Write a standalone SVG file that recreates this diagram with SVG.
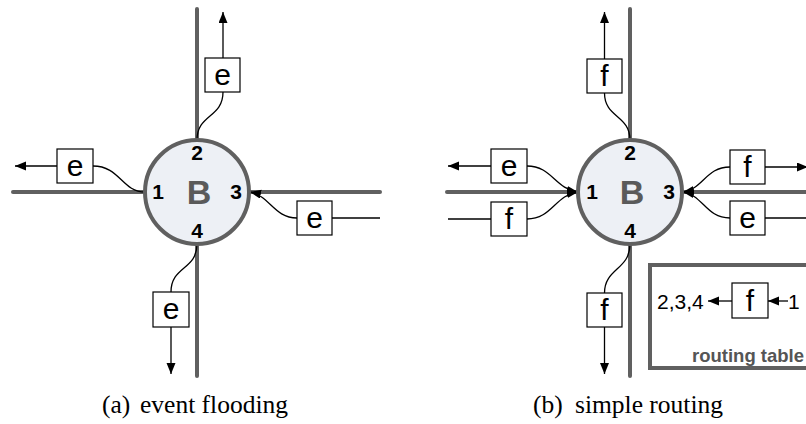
<svg xmlns="http://www.w3.org/2000/svg" width="806" height="424" viewBox="0 0 806 424">
<style>
.road{stroke:#606060;stroke-width:4;stroke-linecap:round;fill:none}
.hub{fill:#edf0f5;stroke:#606060;stroke-width:4}
.big{font-family:"Liberation Sans",Arial,sans-serif;font-weight:bold;font-size:34px;fill:#5a5a5a;text-anchor:middle}
.port{font-family:"Liberation Sans",Arial,sans-serif;font-weight:bold;font-size:21px;fill:#000;text-anchor:middle}
.box{fill:#fff;stroke:#000;stroke-width:1.2}
.lbl{font-family:"Liberation Sans",Arial,sans-serif;font-size:30px;fill:#000;text-anchor:middle}
.c{fill:none;stroke:#000;stroke-width:1.3}
.a{marker-end:url(#ah)}
.tbl{fill:none;stroke:#606060;stroke-width:4}
.rt{font-family:"Liberation Sans",Arial,sans-serif;font-size:21px;fill:#000}
.rtb{font-family:"Liberation Sans",Arial,sans-serif;font-weight:bold;font-size:18.5px;fill:#555}
.cap{font-family:"Liberation Serif","Times New Roman",serif;font-size:25.5px;fill:#000}
</style>
<defs>
<marker id="ah" markerUnits="userSpaceOnUse" markerWidth="12" markerHeight="10" refX="11" refY="4.5" orient="auto">
<path d="M0,0 L11,4.5 L0,9 z" fill="#000"/>
</marker>
</defs>

<g id="roads">
<line class="road" x1="197" y1="9" x2="197" y2="376"/>
<line class="road" x1="13" y1="192" x2="380" y2="192"/>
<line class="road" x1="630" y1="9" x2="630" y2="376"/>
<line class="road" x1="447" y1="192" x2="810" y2="192"/>
</g>

<g id="connectors">
<path class="c a" d="M223,58 V12"/>
<path class="c" d="M223,92 C223,118 197,114 197,140"/>
<path class="c a" d="M57,166 H15"/>
<path class="c" d="M93,166 C120,166 122,192 145,192"/>
<path class="c" d="M332,218 H380"/>
<path class="c a" d="M297,218 C274,218 270,196 250,192"/>
<path class="c a" d="M171,327 V374"/>
<path class="c" d="M171,292 C171,266 197,270 197,244"/>
<path class="c a" d="M604.5,59 V12"/>
<path class="c" d="M604.5,93 C604.5,118 630,115 630,140"/>
<path class="c a" d="M491,166 H448"/>
<path class="c a" d="M527,166 C552,166 555,189 578,192"/>
<path class="c" d="M448,219 H491"/>
<path class="c a" d="M527,219 C552,219 555,195 578,192"/>
<path class="c a" d="M765,167 H808"/>
<path class="c a" d="M730,167 C706,167 703,189 683,192"/>
<path class="c" d="M765,218 H810"/>
<path class="c a" d="M730,218 C706,218 703,195 683,192"/>
<path class="c a" d="M604.5,327 V374"/>
<path class="c" d="M604.5,293 C604.5,268 630,270 630,244"/>
<path class="c a" d="M732,301 H708"/>
<path class="c a" d="M788,301 H768"/>
</g>

<g id="hubA">
<circle class="hub" cx="197" cy="192" r="52"/>
<text class="big" x="199" y="204">B</text>
<text class="port" x="158" y="199">1</text>
<text class="port" x="197" y="160">2</text>
<text class="port" x="236" y="199">3</text>
<text class="port" x="197" y="238">4</text>
</g>

<g id="hubB">
<circle class="hub" cx="630" cy="192" r="52"/>
<text class="big" x="632" y="204">B</text>
<text class="port" x="592" y="199">1</text>
<text class="port" x="630" y="160">2</text>
<text class="port" x="669" y="199">3</text>
<text class="port" x="630" y="238">4</text>
</g>

<g id="a-top-e"><rect class="box" x="205" y="58" width="35" height="34"/><text class="lbl" x="222.5" y="85">e</text></g>
<g id="a-left-e"><rect class="box" x="57" y="149" width="36" height="34"/><text class="lbl" x="75" y="176">e</text></g>
<g id="a-right-e"><rect class="box" x="297" y="201" width="35" height="34"/><text class="lbl" x="314.5" y="228">e</text></g>
<g id="a-bottom-e"><rect class="box" x="153" y="292" width="36" height="35"/><text class="lbl" x="171" y="319">e</text></g>

<g id="b-top-f"><rect class="box" x="587" y="59" width="35" height="34"/><text class="lbl" x="604.5" y="86">f</text></g>
<g id="b-left-e"><rect class="box" x="491" y="149" width="36" height="34"/><text class="lbl" x="509" y="176">e</text></g>
<g id="b-left-f"><rect class="box" x="491" y="202" width="36" height="34"/><text class="lbl" x="509" y="229">f</text></g>
<g id="b-right-f"><rect class="box" x="730" y="150" width="35" height="34"/><text class="lbl" x="747.5" y="177">f</text></g>
<g id="b-right-e"><rect class="box" x="730" y="201" width="35" height="34"/><text class="lbl" x="747.5" y="228">e</text></g>
<g id="b-bottom-f"><rect class="box" x="587" y="293" width="35" height="34"/><text class="lbl" x="604.5" y="320">f</text></g>

<g id="routing-table">
<rect class="tbl" x="650" y="265" width="170" height="103"/>
<text class="rt" x="657" y="309">2,3,4</text>
<rect class="box" x="732" y="283" width="36" height="35"/>
<text class="lbl" x="750" y="311">f</text>
<text class="rt" x="788" y="309">1</text>
<text class="rtb" x="692" y="362">routing table</text>
</g>

<g id="captions">
<text class="cap" x="102" y="413">(a)</text>
<text class="cap" x="140" y="413">event flooding</text>
<text class="cap" x="533" y="413">(b)</text>
<text class="cap" x="575" y="413">simple routing</text>
</g>
</svg>
